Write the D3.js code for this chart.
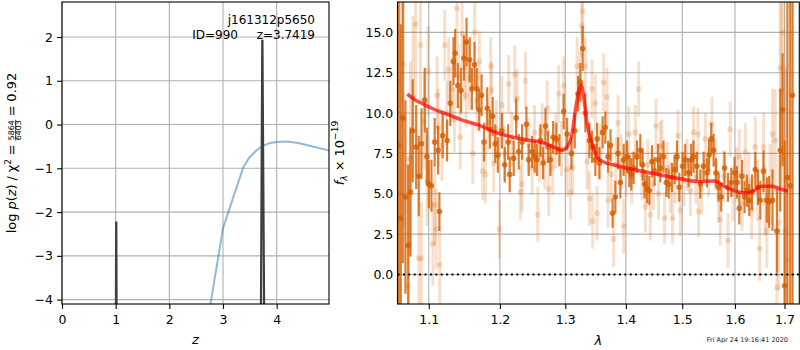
<!DOCTYPE html>
<html>
<head>
<meta charset="utf-8">
<script src="https://cdn.jsdelivr.net/npm/d3@7"></script>
<style>
body { margin: 0; background: #fff; }
svg { display: block; font-family: "DejaVu Sans", sans-serif; }
</style>
</head>
<body>
<svg id="chart" width="800" height="350"></svg>
<script>
"use strict"

// ---- p(z) panel data
var zPz   = [0.00, 1.000, 1.0095, 1.0115, 1.021, 3.700, 3.7315, 3.7345, 3.775, 4.975];
var logPz = [-6.0, -6.0, -2.24,  -2.24,  -6.0,  -6.0,  1.91,   1.91,   -6.0,  -6.0];
var zPrior   = [2.60, 3.00, 3.10, 3.20, 3.30, 3.38, 3.50, 3.63, 3.75, 3.88, 4.00, 4.20, 4.40, 4.60, 4.80, 5.00];
var logPrior = [-5.33, -2.37, -2.00, -1.63, -1.26, -0.97, -0.74, -0.58, -0.48, -0.42, -0.40, -0.39, -0.42, -0.48, -0.54, -0.60];
var zTicks  = [0, 1, 2, 3, 4];
var pzTicks = [-4, -3, -2, -1, 0, 1, 2];

// ---- spectrum panel data (flux in 1e-19)
var lamA = [1.0600, 1.0628, 1.0656, 1.0690, 1.0727, 1.0756, 1.0786, 1.0832, 1.0866, 1.0902,
  1.0946, 1.0975, 1.1000, 1.1036, 1.1080, 1.1127, 1.1144, 1.1189, 1.1249, 1.1293,
  1.1338, 1.1361, 1.1398, 1.1443, 1.1483, 1.1520, 1.1565, 1.1596, 1.1633, 1.1665,
  1.1700, 1.1734, 1.1770, 1.1815, 1.1855, 1.1895, 1.1932, 1.1970, 1.2030, 1.2072,
  1.2122, 1.2145, 1.2205, 1.2241, 1.2280, 1.2331, 1.2396, 1.2431, 1.2483, 1.2523,
  1.2559, 1.2610, 1.2652, 1.2688, 1.2729, 1.2766, 1.2808, 1.2859, 1.2906, 1.2974,
  1.3029, 1.3098, 1.3151, 1.3205, 1.3242, 1.3279, 1.3323, 1.3389, 1.3433, 1.3487,
  1.3516, 1.3553, 1.3608, 1.3653, 1.3698, 1.3740, 1.3775, 1.3821, 1.3867, 1.3906,
  1.3962, 1.4020, 1.4060, 1.4095, 1.4134, 1.4192, 1.4250, 1.4290, 1.4325, 1.4367,
  1.4408, 1.4455, 1.4501, 1.4561, 1.4603, 1.4661, 1.4710, 1.4752, 1.4813, 1.4860,
  1.4904, 1.4946, 1.5006, 1.5055, 1.5116, 1.5165, 1.5208, 1.5273, 1.5335, 1.5398,
  1.5460, 1.5500, 1.5543, 1.5587, 1.5633, 1.5681, 1.5733, 1.5797, 1.5863, 1.5927,
  1.5992, 1.6039, 1.6085, 1.6137, 1.6189, 1.6236, 1.6282, 1.6336, 1.6403, 1.6456,
  1.6503, 1.6568, 1.6636, 1.6683, 1.6752, 1.6843, 1.6911, 1.6959, 1.7001, 1.7060,
  1.7119, 1.7168];
var fluxA = [8.0, 3.5, 9.7, 4.8, 1.8, 5.1, 8.9, 7.9, 6.1, 8.1,
  10.8, 7.3, 5.6, 5.5, 8.2, 7.7, 3.9, 8.6, 8.3, 10.6,
  13.2, 13.7, 11.7, 11.4, 13.4, 14.4, 13.3, 11.5, 13.0, 11.5,
  10.2, 11.1, 8.2, 10.3, 9.0, 9.8, 8.1, 7.4, 8.9, 6.8,
  8.2, 6.2, 7.2, 9.7, 7.6, 8.2, 9.3, 7.1, 7.6, 7.3,
  7.1, 8.3, 6.9, 9.2, 7.9, 7.1, 8.5, 8.4, 7.7, 10.1,
  8.7, 7.5, 8.9, 11.2, 11.9, 14.0, 10.0, 8.3, 7.9, 7.1,
  8.4, 6.9, 8.8, 9.1, 7.3, 8.0, 3.8, 4.8, 7.5, 5.7,
  7.1, 7.3, 6.4, 6.2, 6.6, 7.3, 7.7, 6.8, 5.6, 5.3,
  5.2, 7.0, 6.4, 7.1, 6.6, 7.3, 5.7, 5.6, 6.0, 6.5,
  7.3, 5.4, 6.7, 7.1, 6.3, 7.1, 7.3, 6.7, 5.6, 6.7,
  6.3, 7.4, 8.4, 7.7, 6.3, 5.4, 4.8, 6.6, 5.4, 5.7,
  6.3, 5.7, 4.1, 6.1, 4.8, 5.2, 4.6, 5.1, 6.5, 5.4,
  4.6, 6.4, 4.6, 4.5, 4.6, 2.7, 7.7, 10.2, -0.7, 6.0,
  5.5, 11.1];
var errA = [14, 12, 9, 6, 5, 4, 3.2, 2.6, 2.5, 2.2,
  2.0, 1.8, 1.5, 1.6, 1.5, 1.5, 1.2, 1.4, 1.3, 1.4,
  1.5, 1.5, 1.4, 1.4, 1.4, 1.5, 1.4, 1.3, 1.4, 1.3,
  1.3, 1.3, 1.2, 1.3, 1.2, 1.2, 1.2, 1.1, 1.1, 1.1,
  1.1, 1.1, 1.1, 1.2, 1.1, 1.1, 1.1, 1.0, 1.0, 1.0,
  1.0, 1.0, 1.0, 1.1, 1.0, 1.0, 1.0, 1.0, 1.0, 1.1,
  1.0, 1.0, 1.1, 1.1, 1.2, 1.4, 1.2, 1.1, 1.0, 1.0,
  1.0, 1.0, 1.0, 1.0, 1.0, 1.0, 0.9, 1.0, 1.0, 1.0,
  1.0, 1.0, 1.0, 1.0, 1.0, 1.0, 1.0, 1.0, 0.9, 0.9,
  0.9, 1.0, 0.9, 1.0, 0.9, 1.0, 0.9, 0.9, 0.9, 0.9,
  1.0, 0.9, 0.9, 1.0, 0.9, 1.0, 1.0, 0.9, 0.9, 0.9,
  0.9, 1.0, 1.0, 1.0, 0.9, 0.9, 0.9, 1.0, 0.9, 0.9,
  1.0, 1.0, 1.0, 1.0, 1.0, 1.0, 1.0, 1.1, 1.1, 1.1,
  1.2, 1.3, 1.4, 1.6, 1.9, 2.6, 3.8, 3.5, 9, 11,
  12, 14];

var lamB = [1.0600, 1.0626, 1.0666, 1.0726, 1.0756, 1.0790, 1.0823, 1.0867, 1.0889, 1.0902,
  1.0940, 1.0978, 1.0992, 1.1054, 1.1080, 1.1099, 1.1113, 1.1127, 1.1148, 1.1180,
  1.1217, 1.1245, 1.1272, 1.1318, 1.1350, 1.1386, 1.1408, 1.1431, 1.1459, 1.1490,
  1.1515, 1.1560, 1.1608, 1.1636, 1.1670, 1.1703, 1.1750, 1.1789, 1.1830, 1.1867,
  1.1877, 1.1910, 1.1950, 1.1993, 1.2031, 1.2070, 1.2131, 1.2175, 1.2220, 1.2254,
  1.2306, 1.2331, 1.2381, 1.2430, 1.2483, 1.2520, 1.2569, 1.2600, 1.2637, 1.2680,
  1.2714, 1.2739, 1.2801, 1.2850, 1.2895, 1.2940, 1.2974, 1.3029, 1.3081, 1.3118,
  1.3189, 1.3235, 1.3265, 1.3279, 1.3323, 1.3351, 1.3389, 1.3433, 1.3443, 1.3487,
  1.3516, 1.3570, 1.3625, 1.3681, 1.3698, 1.3753, 1.3792, 1.3830, 1.3867, 1.3920,
  1.3962, 1.4000, 1.4048, 1.4100, 1.4163, 1.4221, 1.4280, 1.4338, 1.4380, 1.4426,
  1.4480, 1.4527, 1.4570, 1.4603, 1.4633, 1.4680, 1.4730, 1.4783, 1.4824, 1.4870,
  1.4923, 1.4964, 1.5030, 1.5087, 1.5150, 1.5208, 1.5250, 1.5291, 1.5302, 1.5360,
  1.5429, 1.5490, 1.5555, 1.5620, 1.5681, 1.5715, 1.5780, 1.5863, 1.5907, 1.5960,
  1.6030, 1.6084, 1.6140, 1.6203, 1.6270, 1.6330, 1.6401, 1.6450, 1.6490, 1.6568,
  1.6600, 1.6636, 1.6700, 1.6752, 1.6808, 1.6843, 1.6880, 1.6911, 1.6931, 1.6970,
  1.7015, 1.7040];
var fluxB = [12.0, 5.0, 13.0, -0.7, 7.2, 11.0, 15.5, 1.0, 14.2, 1.0,
  9.5, 5.8, 12.6, 1.9, 4.3, 2.8, 11.1, 9.1, 0.6, 8.0,
  14.2, 10.0, 12.7, 11.5, 9.6, 16.5, 12.3, 8.5, 14.9, 12.8,
  11.1, 12.2, 7.5, 15.0, 10.8, 13.2, 6.4, 6.2, 9.4, 12.9,
  11.4, 6.9, 9.0, 2.8, 10.5, 7.5, 11.8, 8.4, 12.4, 10.9,
  5.1, 5.6, 12.0, 8.0, 6.6, 8.8, 3.7, 7.4, 8.9, 7.0,
  10.3, 5.3, 6.6, 8.3, 11.2, 7.8, 11.7, 6.5, 5.1, 6.6,
  12.9, 12.0, 15.4, 16.3, 12.9, 7.0, 4.7, 11.5, 3.3, 10.6,
  3.8, 7.6, 11.9, 11.0, 4.6, 6.2, 2.2, 6.8, 9.4, 7.0,
  3.0, 6.5, 8.7, 6.0, 8.8, 11.5, 6.2, 4.2, 6.8, 3.7,
  5.6, 9.2, 5.0, 7.9, 8.0, 3.5, 6.6, 5.4, 3.5, 6.0,
  8.6, 4.0, 5.8, 6.8, 5.2, 8.8, 6.0, 8.7, 3.9, 5.3,
  8.4, 6.4, 9.3, 6.8, 4.8, 3.4, 6.1, 2.1, 9.0, 5.0,
  6.2, 7.3, 4.4, 7.6, 5.8, 4.0, 7.9, 5.2, 1.6, 7.9,
  4.6, 2.7, 5.6, 8.7, 8.3, -0.8, 3.2, 12.8, 11.4, 15.0,
  2.7, 0.9];
var errB = [14, 12, 10, 8, 6, 5, 4.5, 4, 3.5, 3.5,
  3.0, 2.8, 2.8, 2.6, 2.5, 2.5, 2.4, 2.4, 2.4, 2.2,
  2.2, 2.0, 2.0, 2.0, 2.0, 2.2, 2.0, 2.0, 2.0, 2.0,
  2.0, 2.0, 1.9, 2.0, 1.9, 1.9, 1.8, 1.8, 1.8, 1.8,
  1.8, 1.8, 1.8, 1.8, 1.8, 1.7, 1.8, 1.7, 1.8, 1.8,
  1.7, 1.7, 1.8, 1.7, 1.7, 1.7, 1.7, 1.7, 1.7, 1.7,
  1.7, 1.7, 1.7, 1.7, 1.8, 1.7, 1.8, 1.7, 1.7, 1.7,
  1.8, 1.8, 1.9, 2.0, 1.8, 1.7, 1.7, 1.8, 1.7, 1.8,
  1.7, 1.7, 1.8, 1.8, 1.7, 1.7, 1.7, 1.7, 1.7, 1.7,
  1.7, 1.7, 1.7, 1.6, 1.7, 1.7, 1.6, 1.6, 1.6, 1.6,
  1.6, 1.7, 1.6, 1.6, 1.6, 1.6, 1.6, 1.6, 1.6, 1.6,
  1.6, 1.6, 1.6, 1.6, 1.6, 1.6, 1.6, 1.6, 1.6, 1.6,
  1.6, 1.6, 1.7, 1.6, 1.6, 1.6, 1.6, 1.7, 1.7, 1.7,
  1.7, 1.7, 1.7, 1.8, 1.8, 1.8, 1.9, 1.9, 2.0, 2.1,
  2.2, 2.3, 2.5, 2.8, 3.2, 3.6, 4.2, 5, 6, 8,
  10, 12];

var lamModel  = [1.0713, 1.0823, 1.0956, 1.1046, 1.1227, 1.1459, 1.1694, 1.1935, 1.2181, 1.2431,
  1.2688, 1.2870, 1.2949, 1.3029, 1.3109, 1.3162, 1.3215, 1.3258, 1.3296, 1.3351,
  1.3433, 1.3516, 1.3625, 1.3821, 1.4048, 1.4338, 1.4633, 1.4934, 1.5335, 1.5587,
  1.5875, 1.6203, 1.6304, 1.6536, 1.6740, 1.6946, 1.7071];
var fluxModel = [11.17, 10.80, 10.49, 10.28, 9.97, 9.56, 9.25, 8.80, 8.52, 8.32,
  8.11, 7.80, 7.70, 7.90, 8.73, 10.18, 11.32, 11.73, 11.00, 9.35,
  8.11, 7.28, 6.97, 6.77, 6.56, 6.35, 6.15, 5.94, 5.75, 5.79,
  5.32, 5.05, 5.10, 5.46, 5.46, 5.26, 5.17];

var lamTicks  = [1.1, 1.2, 1.3, 1.4, 1.5, 1.6, 1.7];
var fluxTicks = [0, 2.5, 5, 7.5, 10, 12.5, 15];

var sTarget = "j161312p5650";
var sId = "ID=990";
var sZ = "z=3.7419";
var sStamp = "Fri Apr 24 19:16:41 2020";

// ---- layout
var TICKFS = 12.5, LABFS = 13;
var GRID = "#b0b0b0";
var G141 = "#d55e00";
var L = {left: 62, right: 329, top: 2, bottom: 304};
var R = {left: 397.5, right: 799.3, top: 2, bottom: 304};

var svg = d3.select("#chart");
svg.append("rect").attr("width", 800).attr("height", 350).attr("fill", "#fff");

var xz = d3.scaleLinear().domain([0, 4.975]).range([L.left, L.right]);
var yp = d3.scaleLinear().domain([-4.1, 2.8]).range([L.bottom, L.top]);
var xl = d3.scaleLog().domain([1.0587, 1.731]).range([R.left, R.right]);
var yf = d3.scaleLinear().domain([-1.83, 16.88]).range([R.bottom, R.top]);

var defs = svg.append("defs");
[["clipL", L], ["clipR", R]].forEach(function(c) {
	defs.append("clipPath").attr("id", c[0])
		.append("rect")
		.attr("x", c[1].left).attr("y", c[1].top)
		.attr("width", c[1].right - c[1].left)
		.attr("height", c[1].bottom - c[1].top);
});

function grid(box, xs, xv, ys, yv) {
	var g = svg.append("g").attr("stroke", GRID).attr("stroke-width", 1.1);
	g.selectAll("line.v").data(xv).enter().append("line")
		.attr("x1", function(d) { return xs(d); }).attr("x2", function(d) { return xs(d); })
		.attr("y1", box.top).attr("y2", box.bottom);
	g.selectAll("line.h").data(yv).enter().append("line")
		.attr("y1", function(d) { return ys(d); }).attr("y2", function(d) { return ys(d); })
		.attr("x1", box.left).attr("x2", box.right);
}

function styleAxis(g) {
	g.select(".domain").remove();
	g.attr("font-family", null).attr("font-size", null);
	g.selectAll(".tick line").attr("stroke", "#000").attr("stroke-width", 1.1);
	g.selectAll(".tick text").attr("fill", "#000").style("font-size", TICKFS + "px");
}

function spine(box) {
	svg.append("rect")
		.attr("x", box.left).attr("y", box.top)
		.attr("width", box.right - box.left).attr("height", box.bottom - box.top)
		.attr("fill", "none").attr("stroke", "#000").attr("stroke-width", 1.1);
}

// rotated label made of pieces: {t, it, s, dy}, {gap}, {frac:[num, den]}
function mathLabel(cx, cy, size, parts) {
	var outer = svg.append("g").attr("transform", "translate(" + cx + "," + cy + ") rotate(-90)");
	var g = outer.append("g");
	var pos = 0;
	function put(txt, x, y, fs, it) {
		return g.append("text").attr("x", x).attr("y", y)
			.style("font-size", fs + "px")
			.style("font-style", it ? "italic" : "normal")
			.attr("fill", "#000")
			.text(txt);
	}
	parts.forEach(function(p) {
		if (p.gap) { pos += p.gap * size; return; }
		if (p.frac) {
			var fs = size * 0.6;
			var num = put(p.frac[0], pos, -0.12 * size, fs, false);
			var den = put(p.frac[1], pos, 0.42 * size, fs, false);
			var wn = num.node().getComputedTextLength();
			var wd = den.node().getComputedTextLength();
			var w = Math.max(wn, wd) + 1;
			num.attr("x", pos + (w - wn) / 2);
			den.attr("x", pos + (w - wd) / 2);
			g.append("line").attr("x1", pos).attr("x2", pos + w)
				.attr("y1", -0.02 * size).attr("y2", -0.02 * size)
				.attr("stroke", "#000").attr("stroke-width", 0.8);
			pos += w;
			return;
		}
		var t = put(p.t, pos, (p.dy || 0) * size, size * (p.s || 1), p.it);
		pos += t.node().getComputedTextLength();
	});
	g.attr("transform", "translate(" + (-pos / 2) + ",0)");
}

// ================= left panel: p(z)
grid(L, xz, zTicks, yp, pzTicks);

var gL = svg.append("g").attr("clip-path", "url(#clipL)");
gL.append("path")
	.datum(d3.zip(zPrior, logPrior))
	.attr("d", d3.line().x(function(d) { return xz(d[0]); }).y(function(d) { return yp(d[1]); }))
	.attr("fill", "none").attr("stroke", "#1f77b4").attr("stroke-opacity", 0.5).attr("stroke-width", 2);
gL.append("path")
	.datum(d3.zip(zPz, logPz))
	.attr("d", d3.line().x(function(d) { return xz(d[0]); }).y(function(d) { return yp(d[1]); }))
	.attr("fill", "none").attr("stroke", "#3f3f3f").attr("stroke-width", 2.2)
	.attr("stroke-linejoin", "miter");

svg.append("g").attr("transform", "translate(0," + L.bottom + ")")
	.call(d3.axisBottom(xz).tickValues(zTicks).tickFormat(d3.format("d")).tickSize(4.9).tickPadding(6))
	.call(styleAxis);
svg.append("g").attr("transform", "translate(" + L.left + ",0)")
	.call(d3.axisLeft(yp).tickValues(pzTicks).tickFormat(d3.format("d")).tickSize(4.9).tickPadding(4.2))
	.call(styleAxis);
spine(L);

svg.append("text").attr("x", 315).attr("y", 24).attr("text-anchor", "end")
	.style("font-size", "12px").text(sTarget);
svg.append("text").attr("x", 238).attr("y", 38.7).attr("text-anchor", "end")
	.style("font-size", "12px").text(sId);
svg.append("text").attr("x", 315).attr("y", 38.7).attr("text-anchor", "end")
	.style("font-size", "12px").text(sZ);

svg.append("text").attr("x", (L.left + L.right) / 2).attr("y", 343.5).attr("text-anchor", "middle")
	.style("font-size", LABFS + "px").style("font-style", "italic").text("z");

mathLabel(16, (L.top + L.bottom) / 2, LABFS, [
	{t: "log"}, {gap: 0.3}, {t: "p", it: true}, {t: "("}, {t: "z", it: true}, {t: ")"},
	{gap: 0.3}, {t: "/"}, {gap: 0.3}, {t: "\u03c7"}, {t: "2", s: 0.7, dy: -0.4},
	{gap: 0.28}, {t: "="}, {gap: 0.28}, {frac: ["5864", "6403"]},
	{gap: 0.28}, {t: "="}, {gap: 0.28}, {t: "0.92"}
]);

// ================= right panel: spectrum
grid(R, xl, lamTicks, yf, fluxTicks);

var gR = svg.append("g").attr("clip-path", "url(#clipR)");

function errorSeries(lam, flux, err, alpha, barW, r) {
	var data = d3.range(lam.length).map(function(i) { return [lam[i], flux[i], err[i]]; });
	var g = gR.append("g");
	g.selectAll("line").data(data).enter().append("line")
		.attr("x1", function(d) { return xl(d[0]); }).attr("x2", function(d) { return xl(d[0]); })
		.attr("y1", function(d) { return yf(d[1] - d[2]); }).attr("y2", function(d) { return yf(d[1] + d[2]); })
		.attr("stroke", G141).attr("stroke-opacity", alpha).attr("stroke-width", barW);
	g.selectAll("circle").data(data).enter().append("circle")
		.attr("cx", function(d) { return xl(d[0]); }).attr("cy", function(d) { return yf(d[1]); })
		.attr("r", r).attr("fill", G141).attr("fill-opacity", alpha);
}
errorSeries(lamB, fluxB, errB, 0.2, 3, 2.9);
errorSeries(lamA, fluxA, errA, 0.8, 2.2, 2.8);

gR.append("path")
	.datum(d3.zip(lamModel, fluxModel))
	.attr("d", d3.line().curve(d3.curveMonotoneX).x(function(d) { return xl(d[0]); }).y(function(d) { return yf(d[1]); }))
	.attr("fill", "none").attr("stroke", "#ff0000").attr("stroke-opacity", 0.7).attr("stroke-width", 3.5);

gR.append("line")
	.attr("x1", R.left).attr("x2", R.right).attr("y1", yf(0)).attr("y2", yf(0))
	.attr("stroke", "#000").attr("stroke-width", 2).attr("stroke-dasharray", "2,3.4");

svg.append("g").attr("transform", "translate(0," + R.bottom + ")")
	.call(d3.axisBottom(xl).tickValues(lamTicks).tickFormat(d3.format(".1f")).tickSize(4.9).tickPadding(6))
	.call(styleAxis);
svg.append("g").attr("transform", "translate(" + R.left + ",0)")
	.call(d3.axisLeft(yf).tickValues(fluxTicks).tickFormat(d3.format(".1f")).tickSize(0).tickPadding(4.2))
	.call(styleAxis);
spine(R);

svg.append("text").attr("x", (R.left + R.right) / 2).attr("y", 345).attr("text-anchor", "middle")
	.style("font-size", LABFS + "px").style("font-style", "italic").text("\u03bb");

mathLabel(344, (R.top + R.bottom) / 2, LABFS, [
	{t: "f", it: true}, {t: "\u03bb", it: true, s: 0.7, dy: 0.22},
	{gap: 0.3}, {t: "\u00d7"}, {gap: 0.3}, {t: "10"}, {t: "\u221219", s: 0.7, dy: -0.45}
]);

svg.append("text").attr("x", 788).attr("y", 342).attr("text-anchor", "end")
	.style("font-size", "6.5px").attr("fill", "#222").text(sStamp);
</script>
</body>
</html>
